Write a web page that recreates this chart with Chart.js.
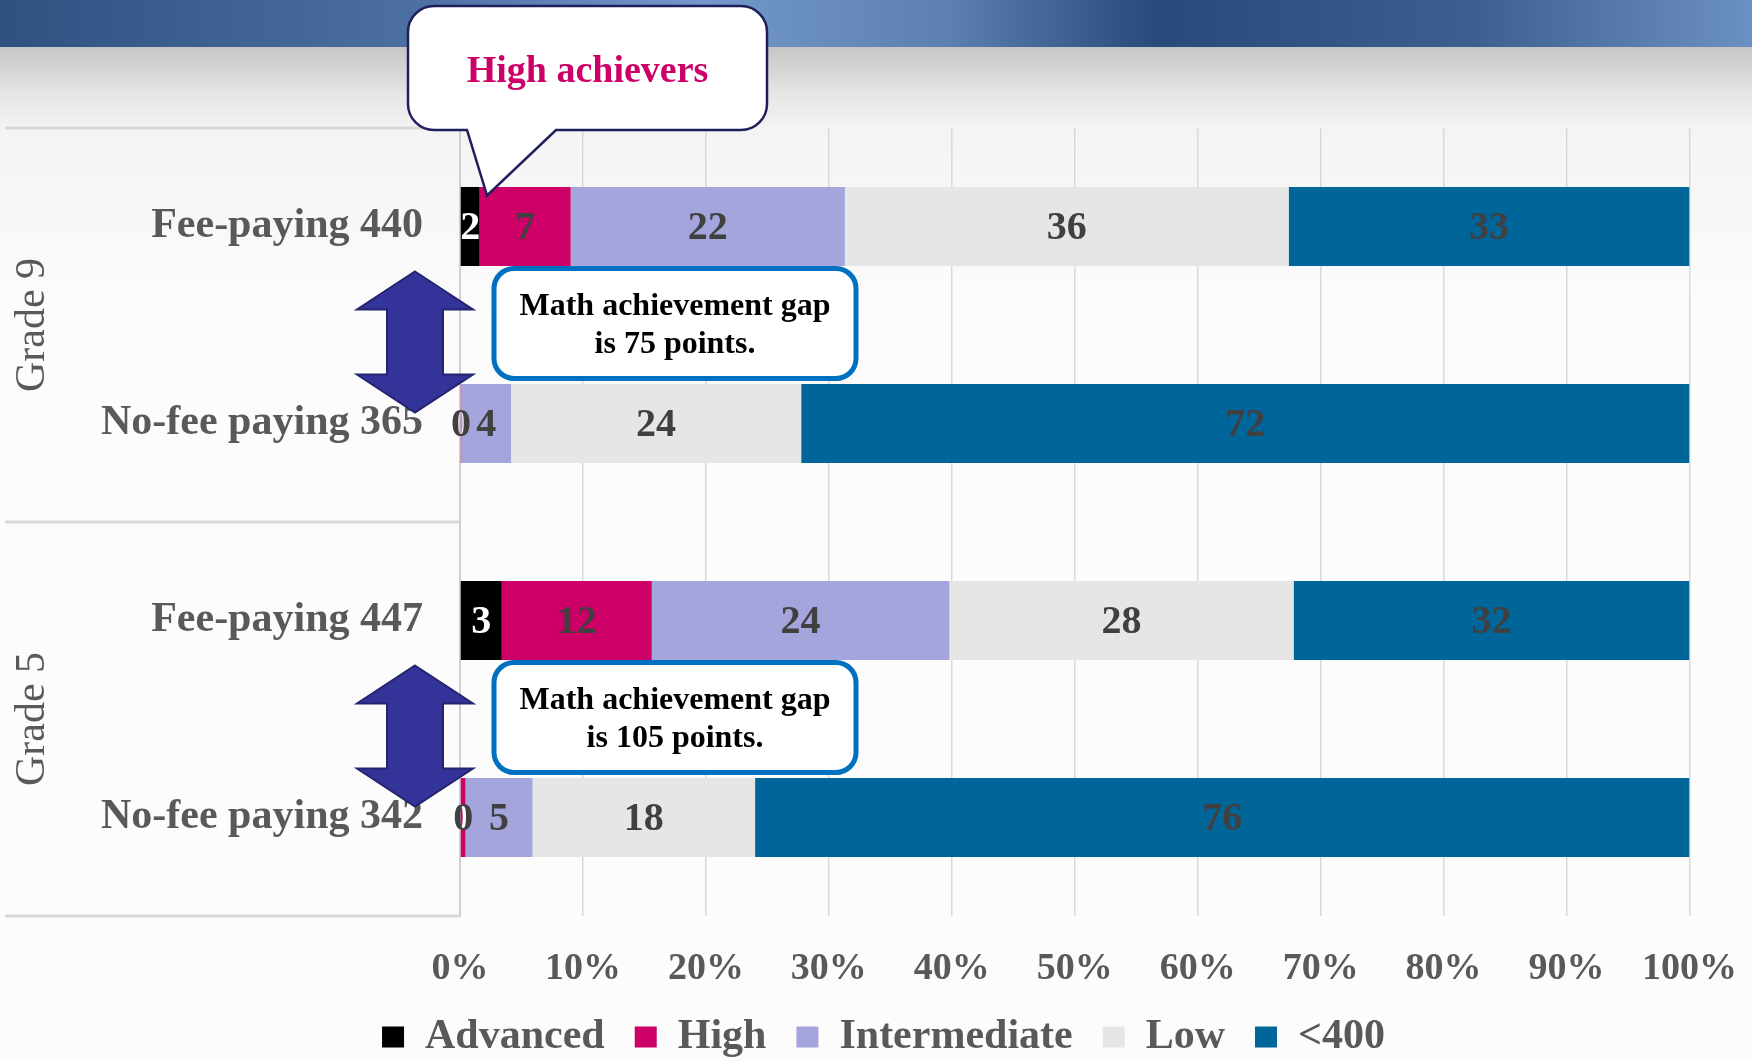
<!DOCTYPE html>
<html>
<head>
<meta charset="utf-8">
<title>Math achievement by school fee status</title>
<script src="https://cdn.jsdelivr.net/npm/chart.js@4.4.0/dist/chart.umd.min.js"></script>
<style>
  html, body { margin: 0; padding: 0; }
  body {
    width: 1752px; height: 1061px; overflow: hidden;
    background:
      linear-gradient(to right, #2e5180 0%, #4b70a1 24%, #7399c9 40%, #5b80b1 54%, #284a7b 66%, #3c5f90 84%, #6b91c2 100%) top / 100% 47px no-repeat,
      linear-gradient(to bottom, #c6c6c6 47px, #e6e6e6 95px, #f4f4f4 130px, #fcfcfc 320px);
  }
  #wrap { position: absolute; left: 0; top: 0; width: 1752px; height: 1061px; }
</style>
</head>
<body>
<div id="wrap"><canvas id="chart"></canvas></div>
<script>
// rows, top to bottom
const categories = ['Fee-paying 440', 'No-fee paying 365', 'Fee-paying 447', 'No-fee paying 342'];
const groups = ['Grade 9', 'Grade 5'];
const levels = ['Advanced', 'High', 'Intermediate', 'Low', '<400'];

// percent of students per level (labels show the rounded value)
const advanced     = [1.6, 0.0, 3.4, 0.0];
const high         = [7.4, 0.1, 12.2, 0.45];
const intermediate = [22.3, 4.05, 24.2, 5.45];
const low          = [36.1, 23.6, 28.0, 18.1];
const below400     = [32.6, 72.25, 32.2, 76.0];

const xTicks = [0, 10, 20, 30, 40, 50, 60, 70, 80, 90, 100];
const gapNotes = [['Math achievement gap', 'is 75 points.'], ['Math achievement gap', 'is 105 points.']];
const calloutText = 'High achievers';

const colors = ['#000000', '#cc0066', '#a5a5de', '#e6e6e6', '#00669a'];
const serif = 'Liberation Serif';

const datasets = [advanced, high, intermediate, low, below400].map((d, i) => ({
  label: levels[i],
  data: d,
  backgroundColor: colors[i],
  borderWidth: 0,
  barPercentage: 0.4,
  categoryPercentage: 1
}));

function drawArrow(ctx, cx, top, bottom) {
  const headH = 38, headW = 58, shaftW = 28;
  ctx.beginPath();
  ctx.moveTo(cx, top);
  ctx.lineTo(cx + headW, top + headH);
  ctx.lineTo(cx + shaftW, top + headH);
  ctx.lineTo(cx + shaftW, bottom - headH);
  ctx.lineTo(cx + headW, bottom - headH);
  ctx.lineTo(cx, bottom);
  ctx.lineTo(cx - headW, bottom - headH);
  ctx.lineTo(cx - shaftW, bottom - headH);
  ctx.lineTo(cx - shaftW, top + headH);
  ctx.lineTo(cx - headW, top + headH);
  ctx.closePath();
  ctx.fillStyle = '#333399';
  ctx.fill();
  ctx.strokeStyle = '#25256f';
  ctx.lineWidth = 2;
  ctx.stroke();
}

function roundRect(ctx, l, t, r, b, rad) {
  ctx.moveTo(l + rad, t);
  ctx.lineTo(r - rad, t);
  ctx.arcTo(r, t, r, t + rad, rad);
  ctx.lineTo(r, b - rad);
  ctx.arcTo(r, b, r - rad, b, rad);
  ctx.lineTo(l + rad, b);
  ctx.arcTo(l, b, l, b - rad, rad);
  ctx.lineTo(l, t + rad);
  ctx.arcTo(l, t, l + rad, t, rad);
}

const decor = {
  id: 'decor',
  afterDraw(chart) {
    const ctx = chart.ctx;
    const area = chart.chartArea;
    const y = chart.scales.y, x = chart.scales.x;
    const slot = y.getPixelForValue(1) - y.getPixelForValue(0);

    // multi-level category lines
    ctx.save();
    ctx.strokeStyle = '#d9d9d9';
    ctx.lineWidth = 3;
    [-0.5, 1.5, 3.5].forEach(v => {
      const py = y.getPixelForValue(0) + v * slot;
      ctx.beginPath();
      ctx.moveTo(5, py);
      ctx.lineTo(area.left, py);
      ctx.stroke();
    });

    // group labels
    ctx.fillStyle = '#595959';
    ctx.font = '42px "' + serif + '"';
    ctx.textAlign = 'center';
    ctx.textBaseline = 'middle';
    groups.forEach((g, i) => {
      const py = (y.getPixelForValue(i * 2) + y.getPixelForValue(i * 2 + 1)) / 2;
      ctx.save();
      ctx.translate(33, py);
      ctx.rotate(-Math.PI / 2);
      ctx.fillText(g, 0, 0);
      ctx.restore();
    });

    // data labels
    ctx.font = 'bold 40px "' + serif + '"';
    chart.data.datasets.forEach((ds, i) => {
      const meta = chart.getDatasetMeta(i);
      meta.data.forEach((el, j) => {
        ctx.fillStyle = i === 0 ? '#ffffff' : '#404040';
        ctx.fillText(String(Math.round(ds.data[j])), (el.x + el.base) / 2, el.y + 2);
      });
    });

    // gap arrows and notes
    groups.forEach((g, i) => {
      const yFee = y.getPixelForValue(i * 2);
      const yNo = y.getPixelForValue(i * 2 + 1);
      drawArrow(ctx, area.left - 45, yFee + 45, yNo - 11);

      const l = area.left + 34, r = l + 362, t = yFee + 42, b = yNo - 45;
      ctx.beginPath();
      roundRect(ctx, l, t, r, b, 20);
      ctx.fillStyle = '#ffffff';
      ctx.fill();
      ctx.strokeStyle = '#0070c0';
      ctx.lineWidth = 5;
      ctx.stroke();
      const mid = (t + b) / 2;
      ctx.fillStyle = '#000000';
      ctx.font = 'bold 32px "' + serif + '"';
      ctx.fillText(gapNotes[i][0], (l + r) / 2, mid - 17);
      ctx.fillText(gapNotes[i][1], (l + r) / 2, mid + 21);
    });

    // "High achievers" speech bubble pointing at the first bar
    const yTop = y.getPixelForValue(0);
    const l = area.left - 52, r = area.left + 307, t = 6, b = area.top + 2, rad = 26;
    const baseL = area.left + 7, baseR = area.left + 96;
    const tipX = x.getPixelForValue(2.2), tipY = yTop - 31;
    ctx.beginPath();
    ctx.moveTo(l + rad, t);
    ctx.lineTo(r - rad, t);
    ctx.arcTo(r, t, r, t + rad, rad);
    ctx.lineTo(r, b - rad);
    ctx.arcTo(r, b, r - rad, b, rad);
    ctx.lineTo(baseR, b);
    ctx.lineTo(tipX, tipY);
    ctx.lineTo(baseL, b);
    ctx.lineTo(l + rad, b);
    ctx.arcTo(l, b, l, b - rad, rad);
    ctx.lineTo(l, t + rad);
    ctx.arcTo(l, t, l + rad, t, rad);
    ctx.closePath();
    ctx.fillStyle = '#ffffff';
    ctx.fill();
    ctx.strokeStyle = '#1f1f5c';
    ctx.lineWidth = 2.5;
    ctx.stroke();
    ctx.fillStyle = '#cc0066';
    ctx.font = 'bold 38px "' + serif + '"';
    ctx.fillText(calloutText, (l + r) / 2, 72);
    ctx.restore();
  }
};

new Chart(document.getElementById('chart'), {
  type: 'bar',
  data: { labels: categories, datasets: datasets },
  options: {
    indexAxis: 'y',
    responsive: true,
    maintainAspectRatio: false,
    animation: false,
    layout: { padding: { top: 128, left: 63, right: 48, bottom: -7 } },
    scales: {
      x: {
        stacked: true,
        min: 0,
        max: 100,
        afterBuildTicks: s => { s.ticks = xTicks.map(v => ({ value: v })); },
        afterFit: s => { s.height = 70; },
        grid: { color: '#d9d9d9', lineWidth: 1.5, drawTicks: true, tickLength: 15, tickColor: 'rgba(0,0,0,0)' },
        border: { display: false },
        ticks: {
          padding: 15,
          color: '#595959',
          font: { family: serif, size: 38, weight: 'bold' },
          callback: v => v + '%'
        }
      },
      y: {
        stacked: true,
        afterFit: s => { s.width = 397; },
        grid: { display: false },
        border: { display: true, color: '#d0d0d0', width: 2 },
        ticks: {
          padding: 29,
          color: '#595959',
          font: { family: serif, size: 42, weight: 'bold' }
        }
      }
    },
    plugins: {
      legend: {
        position: 'bottom',
        labels: {
          boxWidth: 22,
          boxHeight: 21,
          padding: 30,
          color: '#595959',
          font: { family: serif, size: 42, weight: 'bold' }
        }
      },
      tooltip: { enabled: false }
    }
  },
  plugins: [decor]
});
</script>
</body>
</html>
